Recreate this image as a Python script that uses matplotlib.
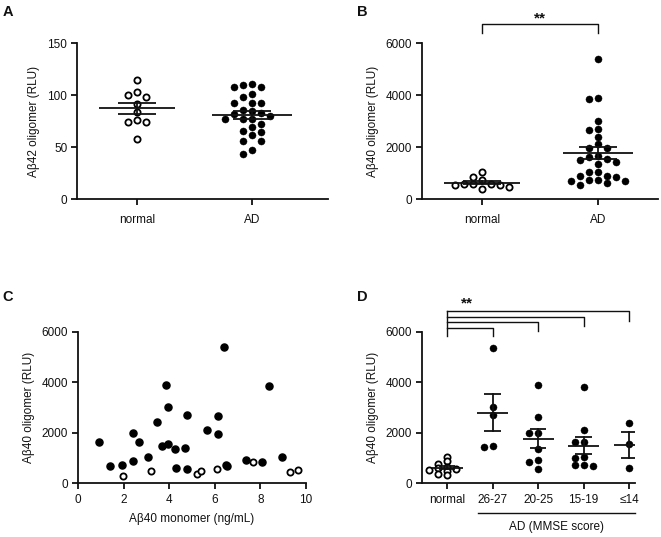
import numpy as np
import matplotlib
matplotlib.use("Agg")
import matplotlib.pyplot as plt
import matplotlib.transforms as mtransforms

plt.rcParams['font.family'] = ['Liberation Sans', 'DejaVu Sans']
plt.rcParams['font.size'] = 8.5

# ---------------- data ----------------
groups_ab = ["normal", "AD"]

a_normal = [115, 100, 98, 103, 92, 84, 74, 74, 76, 58]
a_ad = [110.6, 108, 108, 109.6, 101, 98, 92.6, 92.6, 92.6, 86, 83, 85, 80, 82,
        76.6, 76.6, 76.6, 72, 69, 64.7, 65.4, 61.5, 56, 56, 47, 43]

b_normal = [580, 540, 860, 560, 730, 380, 1030, 470, 530, 560]
b_ad = [5405, 3904, 3838, 3001, 2709, 2643, 2404, 2112, 1979, 1952, 1647, 1620,
        1554, 1487, 1408, 1355, 1049, 1023, 903, 890, 837, 717, 717, 677, 690,
        598, 545]

c_ad_x = [0.93, 1.41, 1.93, 2.40, 2.40, 2.67, 3.08, 3.45, 3.70, 3.84, 3.96, 3.93,
          4.25, 4.31, 4.71, 4.80, 4.79, 5.66, 6.16, 6.13, 6.39, 6.50, 6.53, 7.36,
          8.06, 8.37, 8.93]
c_ad_y = [1620, 690, 717, 1979, 890, 1647, 1023, 2404, 1487, 3904, 1554, 3001,
          1355, 598, 1408, 2709, 545, 2112, 2643, 1952, 5405, 717, 677, 903,
          837, 3838, 1049]
c_normal_x = [1.97, 3.21, 5.20, 5.41, 6.09, 7.66, 9.29, 9.66]
c_normal_y = [292, 478, 345, 478, 571, 837, 438, 518]

d_groups = ["normal", "26-27", "20-25", "15-19", "\u226414"]
d_values = [
    [1030, 860, 760, 630, 600, 570, 520, 470, 370, 300],
    [5375, 3004, 2714, 1423, 1489],
    [3900, 2635, 1976, 1989, 1357, 896, 830, 540],
    [3834, 2108, 1620, 1647, 1050, 990, 700, 660, 700],
    [2385, 1555, 606],
]

W, H = 661, 537
fig = plt.figure(figsize=(W / 100, H / 100), dpi=100)
INK = "#111111"
LW = 1.3


def pos(l, r, t, b):
    return [l / W, 1 - b / H, (r - l) / W, (b - t) / H]


def style(ax):
    for s in ("top", "right"):
        ax.spines[s].set_visible(False)
    for s in ("left", "bottom"):
        ax.spines[s].set_linewidth(LW)
        ax.spines[s].set_color(INK)
    ax.tick_params(axis="both", width=LW, length=4, color=INK, labelcolor=INK)
    ax.tick_params(axis="y", pad=3)


def swarm(ax, xc, vals, d=9.0, h=7.0):
    """Scatter-dot layout: points closer than h px vertically are spread by d px."""
    vals = np.asarray(vals, float)
    order = np.argsort(-vals)
    placed = []
    xs = np.zeros(len(vals))
    cx = ax.transData.transform((xc, 0))[0]
    cands = [0.0]
    for k in range(1, 10):
        cands += [-k * d, k * d]
    for i in order:
        py = ax.transData.transform((xc, vals[i]))[1]
        for c in cands:
            px = cx + c
            if all(abs(px - qx) >= d * 0.99 or abs(py - qy) >= h for qx, qy in placed):
                break
        placed.append((px, py))
        xs[i] = ax.transData.inverted().transform((px, py))[0]
    return xs


def dots(ax, xc, vals, filled, d=9.0, h=7.0):
    xs = swarm(ax, xc, vals, d, h)
    if filled:
        ax.scatter(xs, vals, s=26, c="black", edgecolors="black", linewidths=0.3,
                   zorder=2, clip_on=False)
    else:
        ax.scatter(xs, vals, s=20, facecolors="white", edgecolors="black",
                   linewidths=1.3, zorder=2, clip_on=False)


def meansem(ax, xc, vals, hw, shw):
    v = np.asarray(vals, float)
    m = v.mean()
    se = v.std(ddof=1) / np.sqrt(len(v))
    ax.plot([xc - hw, xc + hw], [m, m], color=INK, lw=LW, zorder=3, solid_capstyle="butt")
    ax.plot([xc - shw, xc + shw], [m + se, m + se], color=INK, lw=LW, zorder=3, solid_capstyle="butt")
    ax.plot([xc - shw, xc + shw], [m - se, m - se], color=INK, lw=LW, zorder=3, solid_capstyle="butt")
    ax.plot([xc, xc], [m - se, m + se], color=INK, lw=LW, zorder=3)


# ---------------- panel A ----------------
axA = fig.add_axes(pos(77, 328, 43.3, 199))
style(axA)
axA.set_xlim(-0.522, 1.661)
axA.set_ylim(0, 150)
axA.set_yticks([0, 50, 100, 150])
axA.set_xticks([0, 1])
axA.set_xticklabels(groups_ab)
axA.tick_params(axis="x", pad=7)
axA.set_ylabel("A\u03b242 oligomer (RLU)", labelpad=5, color=INK)
dots(axA, 0, a_normal, False)
dots(axA, 1, a_ad, True)
meansem(axA, 0, a_normal, 0.33, 0.165)
meansem(axA, 1, a_ad, 0.35, 0.165)

# ---------------- panel B ----------------
axB = fig.add_axes(pos(422, 658, 43.3, 199))
style(axB)
axB.set_xlim(-0.517, 1.517)
axB.set_ylim(0, 6000)
axB.set_yticks([0, 2000, 4000, 6000])
axB.set_xticks([0, 1])
axB.set_xticklabels(groups_ab)
axB.tick_params(axis="x", pad=7)
axB.set_ylabel("A\u03b240 oligomer (RLU)", labelpad=5, color=INK)
dots(axB, 0, b_normal, False)
dots(axB, 1, b_ad, True)
meansem(axB, 0, b_normal, 0.33, 0.165)
meansem(axB, 1, b_ad, 0.30, 0.165)
axB.plot([0, 0, 1, 1], [6400, 6744, 6744, 6400], color=INK, lw=1.0, clip_on=False)
axB.text(0.5, 6700, "**", ha="center", va="bottom", fontsize=11, fontweight="bold",
         color=INK, clip_on=False)

# ---------------- panel C ----------------
axC = fig.add_axes(pos(78, 306, 332, 483))
style(axC)
axC.set_xlim(0, 10)
axC.set_ylim(0, 6000)
axC.set_xticks([0, 2, 4, 6, 8, 10])
axC.set_yticks([0, 2000, 4000, 6000])
axC.tick_params(axis="x", pad=4)
axC.set_xlabel("A\u03b240 monomer (ng/mL)", labelpad=5, color=INK)
axC.set_ylabel("A\u03b240 oligomer (RLU)", labelpad=5, color=INK)
axC.scatter(c_ad_x, c_ad_y, s=26, c="black", zorder=2, clip_on=False)
axC.scatter(c_normal_x, c_normal_y, s=20, facecolors="white", edgecolors="black",
            linewidths=1.3, zorder=3, clip_on=False)

# ---------------- panel D ----------------
axD = fig.add_axes(pos(422, 635, 332, 483))
style(axD)
axD.set_xlim(-0.55, 4.13)
axD.set_ylim(0, 6000)
axD.set_yticks([0, 2000, 4000, 6000])
axD.set_xticks(range(len(d_groups)))
axD.set_xticklabels(d_groups)
axD.tick_params(axis="x", pad=4)
axD.set_ylabel("A\u03b240 oligomer (RLU)", labelpad=5, color=INK)
for i, v in enumerate(d_values):
    dots(axD, i, v, i > 0, d=9.0, h=4.0)
    meansem(axD, i, v, 0.34, 0.18)

top_lines = [6150, 6387, 6585, 6822]
drop_ends = [5822, 6032, 6257, 6455]
for j, (yl, ye) in enumerate(zip(top_lines, drop_ends)):
    xe = j + 1
    axD.plot([0, xe, xe], [yl, yl, ye], color=INK, lw=1.0, clip_on=False)
axD.plot([0, 0], [5822, 6822], color=INK, lw=1.0, clip_on=False)
axD.text(0.44, 6850, "**", ha="center", va="bottom", fontsize=11, fontweight="bold",
         color=INK, clip_on=False)

trD = mtransforms.blended_transform_factory(axD.transData, axD.transAxes)
axD.plot([0.68, 4.13], [-0.197, -0.197], color=INK, lw=1.0, transform=trD, clip_on=False)
axD.text(2.4, -0.29, "AD (MMSE score)", ha="center", va="center", transform=trD, color=INK)

# ---------------- panel letters ----------------
for lab, x, y in [("A", 8, 11.5), ("B", 362, 11.5), ("C", 8, 297), ("D", 362, 297)]:
    fig.text(x / W, 1 - y / H, lab, ha="center", va="center", fontsize=10.5,
             fontweight="bold", color=INK)

fig.savefig("out.png", dpi=100)
